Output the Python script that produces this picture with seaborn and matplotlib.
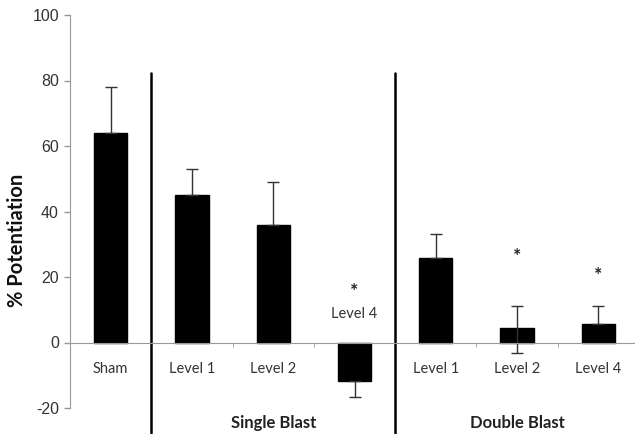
import matplotlib
matplotlib.use("Agg")
import matplotlib.pyplot as plt
import seaborn as sns
import pandas as pd
import numpy as np

categories = ["Sham", "S Level 1", "S Level 2", "S Level 4", "D Level 1", "D Level 2", "D Level 4"]
tick_labels = ["Sham", "Level 1", "Level 2", "Level 4", "Level 1", "Level 2", "Level 4"]
values = [64.0, 45.0, 36.0, -11.7, 25.8, 4.4, 5.8]
err_lower = [0.0, 0.0, 0.0, 5.0, 0.0, 7.5, 0.0]
err_upper = [14.0, 8.0, 13.0, 0.0, 7.4, 6.6, 5.3]
star_y = [None, None, None, 15.6, None, 26.3, 20.4]
group_names = ["Single Blast", "Double Blast"]
group_centers = [2, 5]

sns.set_style("white")
plt.rcParams['font.family'] = ['Lato', 'DejaVu Sans']

fig = plt.figure(figsize=(6.35, 4.34), dpi=100)
ax = fig.add_axes([70/635, 1-408/434, 569/635, (408-15)/434])

df = pd.DataFrame({"cat": categories, "val": values})
sns.barplot(data=df, x="cat", y="val", color="black", width=0.41,
            edgecolor="black", saturation=1, ax=ax, errorbar=None)

x = np.arange(len(categories))
ax.errorbar(x, values, yerr=[err_lower, err_upper], fmt="none",
            ecolor="#333333", elinewidth=1.0, capsize=4, capthick=1.0)

ax.set_xlim(-0.5, 6.5)
ax.set_ylim(-20, 100)
ax.set_yticks([-20, 0, 20, 40, 60, 80, 100])
ax.set_yticklabels(["-20", "0", "20", "40", "60", "80", "100"],
                   fontfamily="Liberation Sans", fontsize=11.5, color="#333333")
ax.tick_params(axis="y", direction="out", length=4, color="#999999", width=1, left=True, pad=4)

ax.spines["top"].set_visible(False)
ax.spines["right"].set_visible(False)
ax.spines["left"].set_color("#999999")
ax.spines["bottom"].set_color("#999999")
ax.spines["bottom"].set_position(("data", 0))

ax.set_xticks(x)
lbls = list(tick_labels)
lbls[3] = ""
ax.set_xticklabels(lbls, fontsize=10.5, color="#333333")
ax.tick_params(axis="x", length=0, pad=14)
ax.set_xticks(np.arange(0.5, 6.5, 1.0), minor=True)
ax.tick_params(axis="x", which="minor", direction="out", length=3, color="#999999", bottom=True)

ax.set_xlabel("")
ax.set_ylabel("")
fig.text(17/635, 1-240/434, "% Potentiation", rotation=90, ha="center", va="center",
         fontsize=14.5, fontweight="bold", color="#111111")

ax.text(3, 8.8, tick_labels[3], ha="center", va="center", fontsize=10.5, color="#333333")
for i, sy in enumerate(star_y):
    if sy is not None:
        ax.text(i, sy, "*", ha="center", va="center", fontsize=14, fontweight="bold",
                color="#222222")

for xs in [0.5, 3.5]:
    ax.plot([xs, xs], [82.3, -27.5], color="black", lw=1.8, clip_on=False)

for name, c in zip(group_names, group_centers):
    ax.text(c, -24.6, name, ha="center", va="center", fontsize=12,
            fontweight="bold", color="#222222", clip_on=False)

fig.savefig("out.png", dpi=100)
